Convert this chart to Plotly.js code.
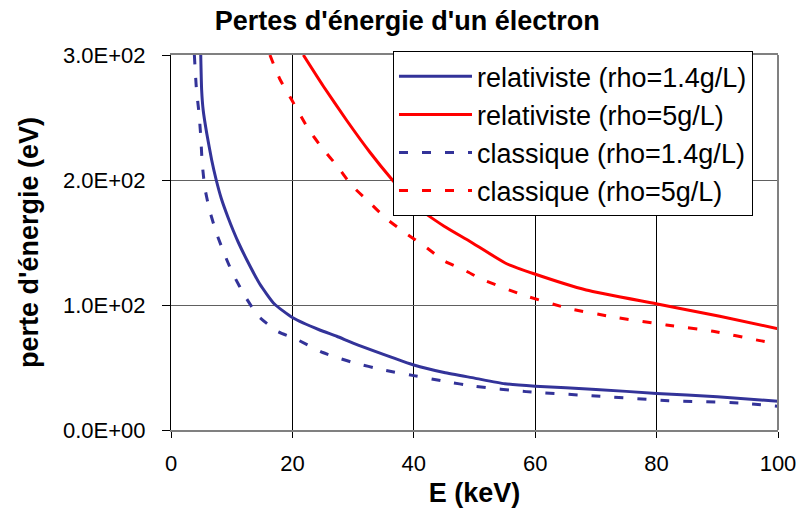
<!DOCTYPE html>
<html>
<head>
<meta charset="utf-8">
<script src="https://cdn.plot.ly/plotly-3.0.1.min.js"></script>
<style>html,body{margin:0;padding:0;background:#fff;}#chart{width:797px;height:516px;}</style>
</head>
<body>
<div id="chart"></div>
<script>
// Energy E (keV) and energy loss (eV) per series
const relLowX  = [4.9, 5.05, 5.3, 5.9, 6.7, 7.4, 8.3, 9.4, 10.3, 11.1, 12.5, 14.6, 17, 20, 24.5, 27.3, 30, 35, 40, 45, 50, 55, 60, 70, 80, 90, 100];
const relLowY  = [300, 272, 256, 237, 216, 201, 185, 170, 159, 150, 136, 117, 101, 90, 80, 75, 69.5, 60.5, 52, 46, 41.5, 37, 35, 32.5, 29.3, 26.7, 23];

const relHighX = [21.8, 25.1, 28.9, 32.8, 36.3, 40.4, 45, 49.2, 55.3, 59.8, 68.4, 79.9, 90.4, 100];
const relHighY = [300, 275, 248, 222, 201, 179, 163, 151, 133, 125, 112, 101, 91, 81];

const claLowX  = [3.85, 3.95, 4.2, 4.6, 4.9, 5.15, 5.6, 6.4, 7.6, 9.2, 10.3, 12.2, 14.4, 17.5, 20.7, 25, 27.8, 30, 35, 40, 45, 50, 58.5, 70, 82, 93.7, 100];
const claLowY  = [300, 291, 272, 254, 235, 213, 193, 175, 156, 136, 124, 107, 91, 79, 72.5, 62, 57.3, 54, 48, 43.5, 39, 35, 30.7, 27.2, 23.5, 21.6, 19];

const claHighX = [16.3, 17.9, 19.9, 22.6, 25, 27.4, 29.7, 32.5, 35.5, 38.5, 41.8, 45.1, 48.7, 51, 58, 65.7, 73.4, 81.6, 89.3, 97, 100];
const claHighY = [300, 281, 264, 241, 225, 211, 196, 183, 169, 158, 147, 135, 127, 121, 108, 97, 90, 84, 79, 71.5, 69];

const seriesNames = ["relativiste (rho=1.4g/L)", "relativiste (rho=5g/L)", "classique (rho=1.4g/L)", "classique (rho=5g/L)"];
const yTickVals = [0, 100, 200, 300];
const yTickText = ["0.0E+00", "1.0E+02", "2.0E+02", "3.0E+02"];
const xTickVals = [0, 20, 40, 60, 80, 100];
const xTickText = ["0", "20", "40", "60", "80", "100"];

const FONT = "Liberation Sans, Arial, sans-serif";
const BLUE = "#333399";
const RED = "#FF0000";
const DASH = "9px,14px";

function lineStyle(color, dash) {
  const l = {color: color, width: 3, shape: "spline", smoothing: 0.5};
  if (dash) l.dash = dash;
  return l;
}

const traces = [
  {x: relLowX,  y: relLowY,  name: seriesNames[0], mode: "lines", line: lineStyle(BLUE)},
  {x: relHighX, y: relHighY, name: seriesNames[1], mode: "lines", line: lineStyle(RED)},
  {x: claLowX,  y: claLowY,  name: seriesNames[2], mode: "lines", line: lineStyle(BLUE, DASH)},
  {x: claHighX, y: claHighY, name: seriesNames[3], mode: "lines", line: lineStyle(RED, DASH)}
];

const layout = {
  width: 797, height: 516,
  margin: {l: 171, r: 19, t: 55, b: 86},
  paper_bgcolor: "#fff", plot_bgcolor: "#fff",
  font: {family: FONT, color: "#000"},
  showlegend: true,
  title: {
    text: "<b>Pertes d'énergie d'un électron</b>",
    font: {family: FONT, size: 27, color: "#000"},
    xref: "container", x: 0.511, xanchor: "center",
    yref: "container", y: 0.961, yanchor: "middle"
  },
  xaxis: {
    range: [0, 100], tickvals: xTickVals, ticktext: xTickText,
    ticks: "outside", ticklen: 6, tickcolor: "#000", tickwidth: 1,
    tickfont: {family: FONT, size: 22, color: "#000"},
    showgrid: true, gridcolor: "#000", gridwidth: 1,
    showline: true, linecolor: "#808080", linewidth: 2, mirror: true,
    zeroline: false, fixedrange: true,
    ticklabelstandoff: 7,
    title: {text: "<b>E (keV)</b>", font: {family: FONT, size: 27, color: "#000"}, standoff: 8}
  },
  yaxis: {
    range: [0, 300], tickvals: yTickVals, ticktext: yTickText,
    ticks: "outside", ticklen: 8, tickcolor: "#000", tickwidth: 1,
    tickfont: {family: FONT, size: 22, color: "#000"},
    showgrid: true, gridcolor: "#606060", gridwidth: 1,
    showline: true, linecolor: "#000", linewidth: 1, mirror: false,
    zeroline: false, fixedrange: true,
    ticklabelstandoff: 12,
    title: {text: "<b>perte d'énergie (eV)</b>", font: {family: FONT, size: 27, color: "#000"}, standoff: 16}
  },
  shapes: [
    {type: "line", xref: "paper", yref: "paper", x0: 1, x1: 1, y0: 0, y1: 1, line: {color: "#808080", width: 2}}
  ],
  legend: {
    x: 0.3657, y: 1.01, xanchor: "left", yanchor: "top",
    bgcolor: "#fff", bordercolor: "#000", borderwidth: 1,
    font: {family: FONT, size: 27, color: "#000"},
    itemwidth: 73
  }
};

Plotly.newPlot("chart", traces, layout, {staticPlot: true, displayModeBar: false});
</script>
</body>
</html>
